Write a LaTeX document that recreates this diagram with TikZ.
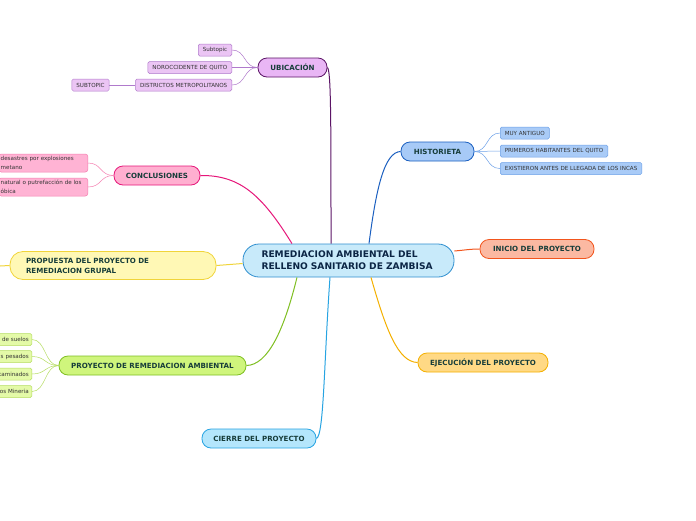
\documentclass[tikz,border=0pt]{standalone}
\usepackage{fontspec}
\setmainfont{DejaVu Sans}
\definecolor{txt}{HTML}{173D3A}
\definecolor{maintxt}{HTML}{0B2545}
\definecolor{mainfill}{HTML}{C8EAFA}\definecolor{maindraw}{HTML}{2F8FCF}
\definecolor{ubfill}{HTML}{E9B6F5}\definecolor{ubdraw}{HTML}{5B1466}
\definecolor{ubcfill}{HTML}{EBC5F4}\definecolor{ubcdraw}{HTML}{B07ACC}
\definecolor{hifill}{HTML}{A7CAF7}\definecolor{hidraw}{HTML}{1A5FC0}
\definecolor{hicfill}{HTML}{A9CBF7}\definecolor{hicdraw}{HTML}{6CA0E8}
\definecolor{cofill}{HTML}{FFAFD0}\definecolor{codraw}{HTML}{E6177A}
\definecolor{cocfill}{HTML}{FFB3D4}\definecolor{cocdraw}{HTML}{F57FB0}
\definecolor{prfill}{HTML}{FFF8B5}\definecolor{prdraw}{HTML}{F0D43A}
\definecolor{pafill}{HTML}{CFF57C}\definecolor{padraw}{HTML}{7FBF22}
\definecolor{pacfill}{HTML}{E4FAA8}\definecolor{pacdraw}{HTML}{B6DD62}
\definecolor{infill}{HTML}{FBB9A2}\definecolor{indraw}{HTML}{F2551D}
\definecolor{ejfill}{HTML}{FFD985}\definecolor{ejdraw}{HTML}{F4B000}
\definecolor{cifill}{HTML}{B4E6FC}\definecolor{cidraw}{HTML}{27A4E2}
\tikzset{
  topic/.style={draw, line width=0.8pt, rounded corners=9pt, minimum height=19pt,
    inner sep=0pt, font=\fontsize{7.1}{8}\selectfont\bfseries, text=txt},
  sub/.style={draw, line width=0.5pt, rounded corners=1.5pt, minimum height=12pt,
    inner ysep=0pt, inner xsep=4.5pt, font=\fontsize{5.6}{6}\selectfont, text=black!80},
  greensub/.style={sub, fill=pacfill, draw=pacdraw, anchor=east, inner xsep=3pt,
    text width=44pt, align=right},
  link/.style={line width=1pt},
  slink/.style={line width=0.5pt},
}
\begin{document}
\begin{tikzpicture}[x=1pt,y=-1pt]
\useasboundingbox (0,0) rectangle (696,520);
\clip (0,0) rectangle (696,520);
\fill[white] (0,0) rectangle (696,520);

% central
\node[draw=maindraw, fill=mainfill, line width=0.8pt, rounded corners=16pt,
  minimum width=211pt, minimum height=33pt, inner sep=0pt, text width=174pt, align=left,
  font=\fontsize{9.1}{12}\selectfont\bfseries, text=maintxt] (main) at (348.5,260.5)
  {REMEDIACION AMBIENTAL DEL\\RELLENO SANITARIO DE ZAMBISA};

% topics
\node[topic, fill=ubfill, draw=ubdraw, minimum width=69pt] (ubic) at (292.5,67.5) {UBICACIÓN};
\node[topic, fill=hifill, draw=hidraw, minimum width=73pt] (hist) at (437.5,151.5) {HISTORIETA};
\node[topic, fill=cofill, draw=codraw, minimum width=86pt] (concl) at (157,175.5) {CONCLUSIONES};
\node[topic, fill=prfill, draw=prdraw, minimum width=206pt, minimum height=28pt, rounded corners=13pt,
  text width=174pt, align=left, font=\fontsize{7.1}{10}\selectfont\bfseries] (prop) at (113,265.5)
  {PROPUESTA DEL PROYECTO DE\\REMEDIACION GRUPAL};
\node[topic, fill=pafill, draw=padraw, minimum width=187pt] (proy) at (152.5,365.5) {PROYECTO DE REMEDIACION AMBIENTAL};
\node[topic, fill=infill, draw=indraw, minimum width=114pt] (ini) at (537,249) {INICIO DEL PROYECTO};
\node[topic, fill=ejfill, draw=ejdraw, minimum width=130pt] (ejec) at (483,362.5) {EJECUCIÓN DEL PROYECTO};
\node[topic, fill=cifill, draw=cidraw, minimum width=114pt] (cier) at (259,438.5) {CIERRE DEL PROYECTO};

% ubicacion children
\node[sub, fill=ubcfill, draw=ubcdraw, anchor=east] (u1) at (232,50) {Subtopic};
\node[sub, fill=ubcfill, draw=ubcdraw, anchor=east] (u2) at (232,67.5) {NOROCCIDENTE DE QUITO};
\node[sub, fill=ubcfill, draw=ubcdraw, anchor=east] (u3) at (232,85) {DISTRICTOS METROPOLITANOS};
\node[sub, fill=ubcfill, draw=ubcdraw, minimum width=37pt] (u4) at (90.5,85) {SUBTOPIC};

% historieta children
\node[sub, fill=hicfill, draw=hicdraw, anchor=west] (h1) at (500,133) {MUY ANTIGUO};
\node[sub, fill=hicfill, draw=hicdraw, anchor=west] (h2) at (500,151) {PRIMEROS HABITANTES DEL QUITO};
\node[sub, fill=hicfill, draw=hicdraw, anchor=west] (h3) at (500,168.5) {EXISTIERON ANTES DE LLEGADA DE LOS INCAS};

% conclusiones children
\node[sub, fill=cocfill, draw=cocdraw, minimum height=18pt, rounded corners=2.5pt, anchor=east,
  inner xsep=2pt, text width=85pt, align=left, font=\fontsize{5.6}{8.5}\selectfont] (c1) at (88,163)
  {desastres por explosiones\\metano};
\node[sub, fill=cocfill, draw=cocdraw, minimum height=18pt, rounded corners=2.5pt, anchor=east,
  inner xsep=2pt, text width=85pt, align=left, font=\fontsize{5.6}{8.5}\selectfont] (c2) at (88,187)
  {natural o putrefacción de los\\óbica};

% proyecto children
\node[greensub] (p1) at (32,339.5) {de suelos};
\node[greensub] (p2) at (32,356.5) {s pesados};
\node[greensub] (p3) at (32,374) {taminados};
\node[greensub] (p4) at (32,391.5) {os Mineria};

\coordinate (propl) at (0,266);

% main connectors
\draw[link, ubdraw] ([xshift=-17.5pt]main.north) .. controls (331,120) and (331,70) .. (ubic.east);
\draw[link, hidraw] ([xshift=20.5pt]main.north) .. controls (376,190) and (384,152) .. (hist.west);
\draw[link, codraw] ([xshift=-56.5pt]main.north) .. controls (262,195) and (240,175) .. (concl.east);
\draw[link, prdraw] ([yshift=-3pt]main.west) -- (prop.east);
\draw[link, prdraw] (prop.west) -- (propl);
\draw[link, padraw] ([xshift=-51.5pt]main.south) .. controls (284,330) and (268,365) .. (proy.east);
\draw[link, indraw] ([yshift=9.5pt]main.east) .. controls (466,250) and (470,249) .. (ini.west);
\draw[link, ejdraw] ([xshift=22.5pt]main.south) .. controls (386,330) and (398,362) .. (ejec.west);
\draw[link, cidraw] ([xshift=-18.5pt]main.south) .. controls (324,360) and (324,436) .. (cier.east);

% child connectors
\foreach \c in {u1,u2,u3}
  \draw[slink, ubcdraw] (ubic.west) .. controls +(-14,0) and +(14,0) .. (\c.east);
\draw[slink, ubcdraw] (u3.west) -- (u4.east);
\foreach \c in {h1,h2,h3}
  \draw[slink, hicdraw] (hist.east) .. controls +(14,0) and +(-14,0) .. (\c.west);
\foreach \c in {c1,c2}
  \draw[slink, cocdraw] (concl.west) .. controls +(-14,0) and +(14,0) .. (\c.east);
\foreach \c in {p1,p2,p3,p4}
  \draw[slink, pacdraw] (proy.west) .. controls +(-14,0) and +(14,0) .. (\c.east);
\end{tikzpicture}
\end{document}
